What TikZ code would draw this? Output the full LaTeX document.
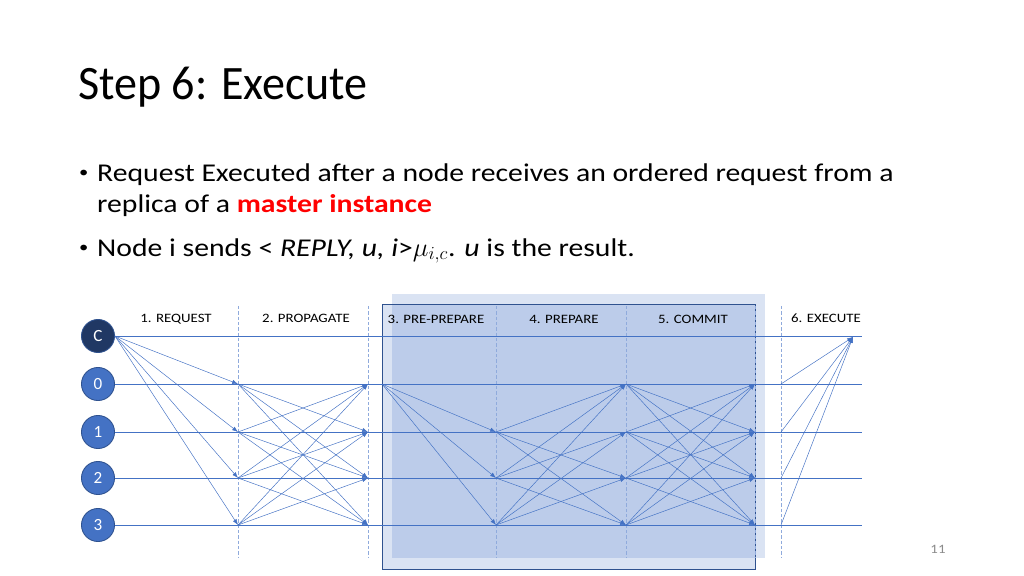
\documentclass[tikz,border=0pt]{standalone}
\usepackage{fontspec}
\setmainfont{Carlito}[FakeStretch=1.16]
\newfontfamily\titlefont{Carlito}[FakeStretch=0.96]
\newfontfamily\circfont{Carlito}
\usetikzlibrary{arrows.meta}
\definecolor{acc}{HTML}{4472C4}
\definecolor{accdark}{HTML}{2F528F}
\definecolor{navy}{HTML}{203864}
\definecolor{dashc}{HTML}{8FAADC}
\definecolor{redtxt}{HTML}{FF0000}
\definecolor{pgray}{HTML}{8B8B8B}
\tikzset{
  proc/.style={circle, minimum size=31pt, inner sep=0pt, draw=accdark, line width=0.8pt, fill=acc, text=white, font=\circfont\fontsize{16}{16}\selectfont},
  timeline/.style={draw=acc, line width=0.6pt},
  msg/.style={draw=acc, line width=0.45pt, -{Latex[length=5.5pt,width=4pt]}},
  phase/.style={dash pattern=on 3pt off 2pt, draw=dashc, line width=0.7pt},
  plabel/.style={font=\fontsize{12}{12}\selectfont, text=black},
  btext/.style={anchor=base west, font=\fontsize{24}{28}\selectfont, inner sep=0pt},
  bdot/.style={anchor=base west, font=\fontsize{15}{15}\selectfont, inner sep=0pt},
}
\begin{document}
\begin{tikzpicture}[x=0.9375pt,y=-0.9375pt]
\useasboundingbox (0,0) rectangle (1024,576);

% title
\node[anchor=base west, inner sep=0pt, font=\titlefont\fontsize{45}{54}\selectfont] (title) at (78,100) {Step 6: Execute};

% bullets
\node[bdot] (b1) at (79,177) {\textbullet};
\node[btext] (t1) at (97,181) {Request Executed after a node receives an ordered request from a};
\node[btext] (t2) at (97,212) {replica of a \textcolor{redtxt}{\textbf{master instance}}};
\node[bdot] (b2) at (79,252) {\textbullet};
\node[btext] (t3) at (97,256) {Node i sends < \textit{REPLY, u, i}>$\mu_{i,c}$. \textit{u} is the result.};

% shaded boxes
\fill[acc, opacity=0.2] (392,294) rectangle (765,558);
\draw[accdark, line width=0.9pt, fill=acc, fill opacity=0.2] (382,304) rectangle (755,569);

% phase separators
\foreach \x/\n in {238/d1,368/d2,496/d3,626/d4,755/d5,781/d6}{
  \draw[phase] (\x,306) coordinate (\n t) -- (\x,558) coordinate (\n b);
}

% labels
\node[plabel] (l1) at (176,319) {1. REQUEST};
\node[plabel] (l2) at (306,318) {2. PROPAGATE};
\node[plabel] (l3) at (436,319) {3. PRE-PREPARE};
\node[plabel] (l4) at (564,319) {4. PREPARE};
\node[plabel] (l5) at (693,319) {5. COMMIT};
\node[plabel] (l6) at (826,318) {6. EXECUTE};

% processes
\node[proc, fill=navy] (nC) at (98,336) {C};
\node[proc] (n0) at (98,384) {0};
\node[proc] (n1) at (98,432) {1};
\node[proc] (n2) at (98,478) {2};
\node[proc] (n3) at (98,525) {3};

% timelines
\foreach \r/\y in {C/336,0/384,1/432,2/478,3/525}{
  \coordinate (e\r) at (862,\y);
  \draw[timeline] (n\r.east) -- (e\r);
}

% column points
\foreach \r/\y in {0/384,1/432,2/478,3/525}{
  \coordinate (a\r) at (238,\y);
  \coordinate (b\r) at (368,\y);
  \coordinate (c\r) at (382,\y);
  \coordinate (d\r) at (496,\y);
  \coordinate (f\r) at (626,\y);
  \coordinate (g\r) at (755,\y);
  \coordinate (h\r) at (781,\y);
}
\coordinate (ex) at (853,337);

% 1. request
\foreach \r in {0,1,2,3}{ \draw[msg] (nC.east) -- (a\r); }
% 2. propagate
\foreach \s in {0,1,2,3}{
  \foreach \r in {0,1,2,3}{
    \ifnum\s=\r\else \draw[msg] (a\s) -- (b\r); \fi
  }
}
% 3. pre-prepare
\foreach \r in {1,2,3}{ \draw[msg] (c0) -- (d\r); }
% 4. prepare
\foreach \s in {1,2,3}{
  \foreach \r in {0,1,2,3}{
    \ifnum\s=\r\else \draw[msg] (d\s) -- (f\r); \fi
  }
}
% 5. commit
\foreach \s in {0,1,2,3}{
  \foreach \r in {0,1,2,3}{
    \ifnum\s=\r\else \draw[msg] (f\s) -- (g\r); \fi
  }
}
% 6. execute
\foreach \s in {0,1,2,3}{ \draw[msg] (h\s) -- (ex); }

% page number
\node[font=\fontsize{12}{12}\selectfont, text=pgray] (pn) at (938,549) {11};
\end{tikzpicture}
\end{document}
